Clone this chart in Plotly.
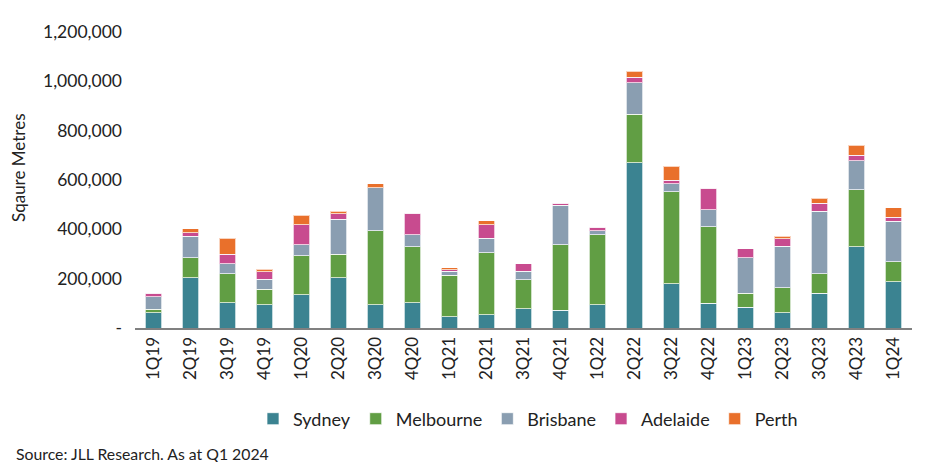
import plotly.graph_objects as go

quarters = ["1Q19", "2Q19", "3Q19", "4Q19", "1Q20", "2Q20", "3Q20", "4Q20",
            "1Q21", "2Q21", "3Q21", "4Q21", "1Q22", "2Q22", "3Q22", "4Q22",
            "1Q23", "2Q23", "3Q23", "4Q23", "1Q24"]

sydney = [62000, 204000, 103000, 95000, 134000, 204000, 95000, 103000,
          46000, 54000, 79000, 71000, 95000, 669000, 179000, 101000,
          85000, 62000, 141000, 329000, 187000]
melbourne = [15000, 80000, 116000, 62000, 158000, 95000, 300000, 227000,
             167000, 252000, 117000, 267000, 284000, 198000, 373000, 309000,
             56000, 102000, 78000, 231000, 81000]
brisbane = [49000, 87000, 42000, 41000, 46000, 142000, 173000, 49000,
            17000, 57000, 34000, 160000, 16000, 127000, 32000, 70000,
            143000, 167000, 254000, 118000, 165000]
adelaide = [15000, 16000, 38000, 31000, 80000, 22000, 0, 86000,
            7000, 55000, 30000, 8000, 14000, 22000, 14000, 87000,
            38000, 30000, 32000, 23000, 15000]
perth = [0, 15000, 64000, 9000, 39000, 10000, 16000, 0,
         8000, 16000, 0, 0, 0, 25000, 57000, 0,
         0, 10000, 22000, 39000, 40000]

y_ticks = [0, 200000, 400000, 600000, 800000, 1000000, 1200000]
y_labels = ["-", "200,000", "400,000", "600,000", "800,000", "1,000,000", "1,200,000"]

FONT = dict(family="Lato, sans-serif", size=17, color="#222222")

series = [
    ("Sydney", sydney, "#3b8391"),
    ("Melbourne", melbourne, "#619e44"),
    ("Brisbane", brisbane, "#8a9eb1"),
    ("Adelaide", adelaide, "#c84b8f"),
    ("Perth", perth, "#e9702b"),
]

fig = go.Figure()
for name, vals, color in series:
    fig.add_trace(go.Bar(
        x=quarters, y=vals, name=name,
        marker=dict(color=color, line=dict(color="rgba(255,255,255,0.7)", width=1)),
        width=0.44,
    ))

# page body has an 8px margin, so the figure is drawn 8px in from the corner
fig.update_layout(
    barmode="stack",
    width=927, height=454,
    margin=dict(l=127, r=23, t=24, b=134),
    paper_bgcolor="white",
    plot_bgcolor="white",
    font=FONT,
    showlegend=True,
    legend=dict(orientation="h", x=(528 - 135) / 777, xanchor="center",
                y=(328 - 419) / 296, yanchor="middle",
                font=dict(size=18), itemwidth=30, traceorder="normal"),
    xaxis=dict(
        tickangle=-90,
        showline=True, linecolor="#808080", linewidth=2,
        showgrid=False, ticks="",
        tickfont=dict(size=17),
    ),
    yaxis=dict(
        range=[0, 1200000],
        tickvals=y_ticks, ticktext=y_labels,
        showgrid=False, zeroline=False, showline=False,
        ticks="", ticklabelstandoff=12,
        tickfont=dict(size=17.5),
    ),
    annotations=[
        dict(text="Sqaure Metres", textangle=-90, xref="paper", yref="paper",
             x=(18 - 135) / 777, y=(328 - 168) / 296, xanchor="center", yanchor="middle",
             showarrow=False, font=dict(size=17)),
        dict(text="Source: JLL Research. As at Q1 2024", xref="paper", yref="paper",
             x=(14 - 135) / 777, y=(328 - 453) / 296, xanchor="left", yanchor="middle",
             showarrow=False, font=dict(size=15.8)),
    ],
)

fig.write_html("out.html")
